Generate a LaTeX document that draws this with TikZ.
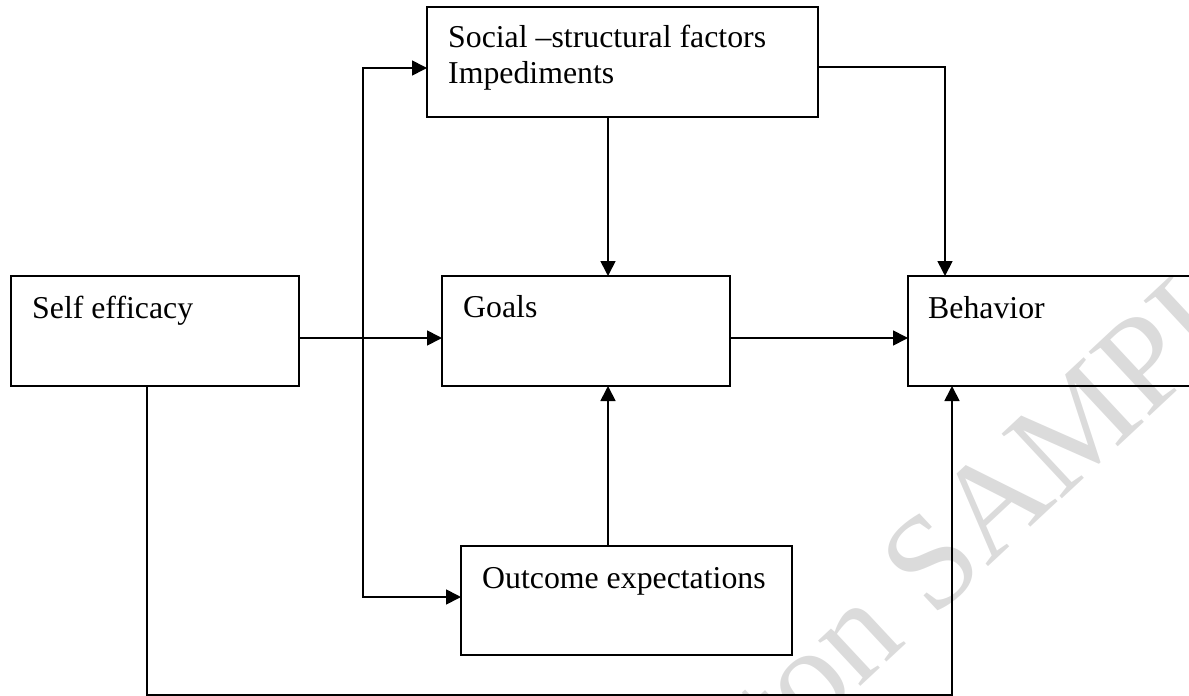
\documentclass[tikz,border=0pt]{standalone}
\usepackage{fontspec}
\setmainfont{Liberation Serif}
\usetikzlibrary{arrows.meta}
\begin{document}
\begin{tikzpicture}[x=1pt,y=-1pt,
  box/.style={draw=black, line width=1.7pt, rectangle, inner sep=0pt, outer sep=0pt},
  lbl/.style={anchor=base west, inner sep=0pt, font=\fontsize{31.8}{36}\selectfont},
  conn/.style={draw=black, line width=1.7pt},
  arr/.style={conn, -{Triangle[length=15pt,width=15pt]}},
  arrboth/.style={conn, {Triangle[length=15pt,width=15pt]}-{Triangle[length=15pt,width=15pt]}},
  wm/.style={text=black!14, inner sep=0pt, font=\fontsize{135}{140}\selectfont}]
\useasboundingbox (0,0) rectangle (1189,696);
\begin{scope}
\clip (0,0) rectangle (1189,696);
% watermark
\node[wm, rotate=43, anchor=base west] (wmark) at (782,760) {ton SAMPLE};
% boxes
\node[box, minimum width=391pt, minimum height=110pt] (soc) at (622.5,62) {};
\node[box, minimum width=288pt, minimum height=110pt] (se) at (155,331) {};
\node[box, minimum width=288pt, minimum height=110pt] (goals) at (586,331) {};
\node[box, minimum width=292pt, minimum height=110pt] (beh) at (1054,331) {};
\node[box, minimum width=331pt, minimum height=109pt] (out) at (626.5,600.5) {};
% labels
\node[lbl] (soct1) at (448,47) {Social –structural factors};
\node[lbl] (soct2) at (448,83) {Impediments};
\node[lbl] (set) at (32,318) {Self efficacy};
\node[lbl] (goalst) at (463,317) {Goals};
\node[lbl] (beht) at (928,318) {Behavior};
\node[lbl] (outt) at (482,588) {Outcome expectations};
% helper coordinates
\coordinate (tt) at (363,68);
\coordinate (tb) at (363,597);
\coordinate (sy) at (0,338);
\coordinate (sx) at (608,0);
\coordinate (rt) at (945,67);
\coordinate (bl) at (147,695);
\coordinate (br) at (952,695);
% connectors
\draw[arr] (se.east |- sy) -- (goals.west |- sy);
\draw[arr] (goals.east |- sy) -- (beh.west |- sy);
\draw[arrboth] (soc.west |- tt) -- (tt) -- (tb) -- (out.west |- tb);
\draw[arr] (soc.south -| sx) -- (goals.north -| sx);
\draw[arr] (out.north -| sx) -- (goals.south -| sx);
\draw[arr] (soc.east |- rt) -- (rt) -- (beh.north -| rt);
\draw[arr] (se.south -| bl) -- (bl) -- (br) -- (beh.south -| br);
\end{scope}
\end{tikzpicture}
\end{document}
